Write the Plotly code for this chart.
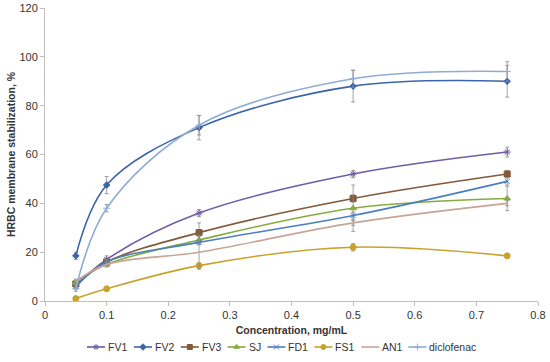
import plotly.graph_objects as go

conc = [0.05, 0.1, 0.25, 0.5, 0.75]
series_names = ["FV1", "FV2", "FV3", "SJ", "FD1", "FS1", "AN1", "diclofenac"]
fv1 = [6, 17, 36, 52, 61]
fv2 = [18.5, 47.5, 71, 88, 90]
fv3 = [7, 16, 28, 42, 52]
sj = [7.5, 15, 25, 38, 42]
fd1 = [6, 16, 24, 35, 49]
fs1 = [1, 5, 14.5, 22, 18.5]
an1 = [8, 15, 20, 32, 40]
diclofenac = [5, 38, 72, 91, 94]

err_fv1 = [1, 1.5, 1.5, 1.5, 2]
err_fv2 = [1.5, 3.5, 5, 6.5, 6.5]
err_fv3 = [1, 1, 4, 1.5, 1.5]
err_sj = [1, 1, 1.5, 9.5, 5]
err_fd1 = [1, 1, 1, 1.5, 1.5]
err_fs1 = [0.5, 0.5, 1, 1.5, 0.5]
err_an1 = [1, 1, 7, 1, 1]
err_dic = [1, 1.5, 4, 3.5, 4]

values = [fv1, fv2, fv3, sj, fd1, fs1, an1, diclofenac]
errors = [err_fv1, err_fv2, err_fv3, err_sj, err_fd1, err_fs1, err_an1, err_dic]
colors = ["#6E5CA6", "#3C64A8", "#84593A", "#86AC3E", "#4A7EC0", "#C8A22A", "#C7A596", "#8FACD4"]
symbols = ["asterisk-open", "diamond", "square", "triangle-up", "x-thin-open", "circle", None, "cross-thin-open"]
sizes = [6, 5, 6, 6, 5, 6, 0, 5]

W, H = 550, 362
ML, MR, MT, MB = 45, 12, 8, 4
plot_bottom = 301
paper_h = H - MT - MB
y_dom0 = (H - MB - plot_bottom) / paper_h
leg_h = 28
leg_dom1 = leg_h / paper_h
leg_y = 347

fig = go.Figure()
for name, v, e, c, s, sz in zip(series_names, values, errors, colors, symbols, sizes):
    mode = "lines+markers" if s else "lines"
    marker = dict(color=c, size=sz, symbol=s, line=dict(color=c, width=1)) if s else None
    fig.add_trace(go.Scatter(
        x=conc, y=v, name=name, mode=mode, showlegend=False,
        line=dict(color=c, width=1.6, shape="spline", smoothing=1.0),
        marker=marker,
        error_y=dict(type="data", array=e, visible=True, color="#8c8c8c", thickness=0.8, width=2),
    ))

# custom compact legend (pixel-coordinate hidden axes)
def text_w(t):
    w = 0
    for ch in t:
        if ch in "il":
            w += 3.0
        elif ch == "1":
            w += 5.8
        elif ch == "J":
            w += 5.2
        elif ch in "FVSDAN":
            w += 6.6
        else:
            w += 5.6
    return w

line_len = 18
x0 = 87
annotations = []
for name, c, s in zip(series_names, colors, symbols):
    xs = [x0, x0 + line_len / 2, x0 + line_len]
    fig.add_trace(go.Scatter(
        x=xs, y=[leg_y] * 3, xaxis="x2", yaxis="y2", mode="lines", showlegend=False,
        hoverinfo="skip", line=dict(color=c, width=1.6)))
    if s:
        fig.add_trace(go.Scatter(
            x=[x0 + line_len / 2], y=[leg_y], xaxis="x2", yaxis="y2", mode="markers",
            showlegend=False, hoverinfo="skip",
            marker=dict(color=c, size=5, symbol=s, line=dict(color=c, width=1))))
    annotations.append(dict(x=x0 + line_len + 1, y=leg_y, xref="x2", yref="y2", text=name,
                            showarrow=False, xanchor="left", yanchor="middle",
                            font=dict(size=10.5, color="#333333")))
    x0 += line_len + 2 + text_w(name) + 8

fig.update_layout(
    width=W, height=H,
    margin=dict(l=ML, r=MR, t=MT, b=MB, autoexpand=False),
    paper_bgcolor="white", plot_bgcolor="white",
    font=dict(family="Liberation Sans, Arial, sans-serif", size=11, color="#333333"),
    showlegend=False,
    annotations=annotations,
    xaxis=dict(range=[0, 0.8], dtick=0.1, showgrid=False, zeroline=False,
               showline=True, linecolor="#bfbfbf", linewidth=1, ticks="outside",
               tickcolor="#bfbfbf", ticklen=4, anchor="y",
               title=dict(text="<b>Concentration, mg/mL</b>", font=dict(size=10.5), standoff=6)),
    yaxis=dict(range=[0, 120], dtick=20, showgrid=False, zeroline=False, domain=[y_dom0, 1],
               showline=True, linecolor="#bfbfbf", linewidth=1, ticks="outside",
               tickcolor="#bfbfbf", ticklen=4, anchor="x",
               title=dict(text="<b>HRBC membrane stabilization, %</b>", font=dict(size=10.5), standoff=1)),
    xaxis2=dict(range=[ML, W - MR], domain=[0, 1], visible=False, anchor="y2", fixedrange=True),
    yaxis2=dict(range=[H - MB, H - MB - leg_h], domain=[0, leg_dom1], visible=False,
                anchor="x2", fixedrange=True),
)

fig.write_html("out.html", config={"displayModeBar": False},
               post_script="document.body.style.margin='0';document.body.style.overflow='hidden';")
